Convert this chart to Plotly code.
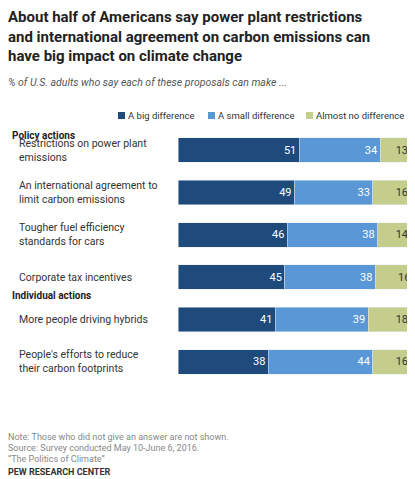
import plotly.graph_objects as go

# page body has an 8px margin, so work in reference pixels minus OFF
OFF = 8
W, H = 415 - OFF, 479 - OFF
L, R, T, B = 178 - OFF, 4, 129 - OFF, 96

labels = ["Restrictions on power plant<br>emissions",
          "An international agreement to<br>limit carbon emissions",
          "Tougher fuel efficiency<br>standards for cars",
          "Corporate tax incentives",
          "More people driving hybrids",
          "People's efforts to reduce<br>their carbon footprints"]
big = [51, 49, 46, 45, 41, 38]
small = [34, 33, 38, 38, 39, 44]
none_ = [13, 16, 14, 16, 18, 16]
series = [("A big difference", big, "#1f4a7c", "white"),
          ("A small difference", small, "#5a97d6", "white"),
          ("Almost no difference", none_, "#c5cd8c", "#333333")]

cats = list(range(len(labels)))
fig = go.Figure()
for name, vals, col, tcol in series:
    fig.add_trace(go.Bar(y=cats, x=vals, orientation="h", name=name, marker_color=col,
                         text=vals, textposition="inside", insidetextanchor="end",
                         textfont=dict(color=tcol, size=11), showlegend=False))

def py(p):  # reference pixel y -> paper y
    return 1 - (p - OFF - T) / (H - T - B)

def px(p):
    return (p - OFF - L) / (W - L - R)

ann = []
def txt(x, y, s, size=11, color="#333333"):
    ann.append(dict(x=px(x), y=py(y), xref="paper", yref="paper", text=s, showarrow=False,
                    xanchor="left", yanchor="middle", align="left",
                    font=dict(size=size, color=color)))

for i, lab in enumerate(labels):
    ann.append(dict(x=px(17), y=i, xref="paper", yref="y", text=lab, showarrow=False,
                    xanchor="left", align="left", yanchor="middle",
                    font=dict(size=10.5, color="#333333")))

txt(10, 136, "<b>Policy actions</b>", 10, "#222222")
txt(10, 295, "<b>Individual actions</b>", 10, "#222222")
txt(6, 36, "<b>About half of Americans say power plant restrictions<br>and international agreement on carbon emissions can<br>have big impact on climate change</b>", 15, "#222222")
txt(6, 83, "<i>% of U.S. adults who say each of these proposals can make ...</i>", 10.5, "#555555")
# legend
for x, (name, _, col, _) in zip([118, 208, 306], series):
    fig.add_shape(type="rect", xref="paper", yref="paper", x0=px(x), x1=px(x + 7),
                  y0=py(119), y1=py(112), fillcolor=col, line_width=0)
    txt(x + 8, 115.5, name, 9.5, "#333333")
txt(6, 437, "Note: Those who did not give an answer are not shown.", 9, "#888888")
txt(6, 448, "Source: Survey conducted May 10-June 6, 2016.", 9, "#888888")
txt(6, 459, "\u201cThe Politics of Climate\u201d", 9, "#888888")
txt(6, 472, "<b>PEW RESEARCH CENTER</b>", 9, "#333333")

fig.update_layout(
    width=W, height=H, margin=dict(l=L, r=R, t=T, b=B),
    barmode="stack", bargap=0.42, plot_bgcolor="white", paper_bgcolor="white",
    font=dict(family="Roboto, Arial, sans-serif"),
    xaxis=dict(visible=False, range=[0, 98]),
    yaxis=dict(visible=False, range=[5.5, -0.5]),
    annotations=ann, uniformtext=dict(minsize=8, mode="show"),
)
fig.write_html("out.html")
